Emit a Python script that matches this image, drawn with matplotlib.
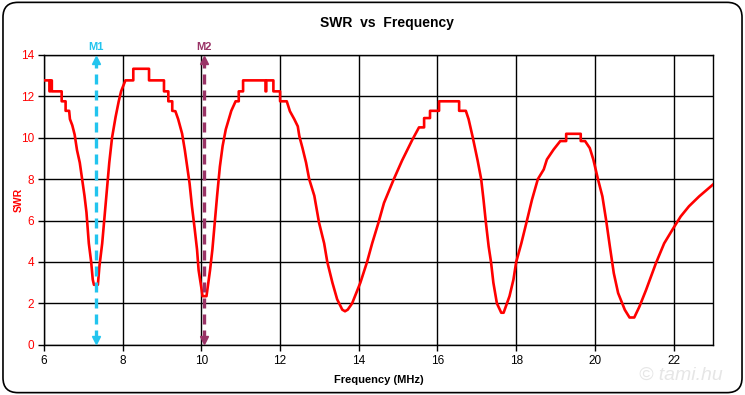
import numpy as np
import matplotlib.pyplot as plt
from matplotlib.patches import FancyBboxPatch

plt.rcParams['font.family'] = ['Liberation Sans', 'DejaVu Sans']

# SWR sweep (MHz, SWR)
freq = [6.00, 6.14, 6.14, 6.16, 6.16, 6.20, 6.20, 6.45, 6.45, 6.55, 6.55, 6.64,
        6.66, 6.72, 6.78, 6.84, 6.91, 6.97, 7.03, 7.08, 7.14, 7.20, 7.24, 7.27,
        7.37, 7.41, 7.48, 7.54, 7.60, 7.66, 7.73, 7.82, 7.90, 7.96, 8.07, 8.27,
        8.27, 8.67, 8.67, 9.05, 9.05, 9.16, 9.16, 9.26, 9.26, 9.34, 9.41, 9.51,
        9.58, 9.64, 9.70, 9.76, 9.83, 9.89, 9.93, 10.00, 10.03, 10.13, 10.22,
        10.28, 10.34, 10.40, 10.47, 10.54, 10.62, 10.76, 10.87, 10.95, 10.95,
        11.06, 11.06, 11.63, 11.63, 11.65, 11.65, 11.83, 11.83, 12.00, 12.00,
        12.17, 12.25, 12.36, 12.45, 12.49, 12.57, 12.66, 12.74, 12.87, 12.99,
        13.12, 13.20, 13.33, 13.45, 13.58, 13.65, 13.72, 13.83, 14.04, 14.21,
        14.34, 14.50, 14.64, 14.89, 15.10, 15.36, 15.53, 15.66, 15.66, 15.81,
        15.81, 16.04, 16.04, 16.55, 16.55, 16.72, 16.79, 16.89, 17.02, 17.11,
        17.17, 17.23, 17.30, 17.36, 17.42, 17.51, 17.62, 17.68, 17.83, 17.93,
        18.00, 18.13, 18.26, 18.40, 18.55, 18.70, 18.78, 18.95, 19.12, 19.27,
        19.27, 19.64, 19.64, 19.75, 19.87, 19.96, 20.08, 20.19, 20.29, 20.38,
        20.48, 20.59, 20.76, 20.88, 21.00, 21.13, 21.30, 21.55, 21.76, 21.97,
        22.18, 22.39, 22.65, 22.90, 23.00]
swr = [12.77, 12.77, 12.24, 12.24, 12.77, 12.77, 12.24, 12.24, 11.76, 11.76, 11.30, 11.30,
       10.90, 10.60, 10.15, 9.40, 8.80, 8.00, 7.20, 6.40, 4.90, 4.00, 3.15, 2.90,
       2.90, 3.80, 4.90, 6.20, 7.50, 8.80, 10.00, 11.00, 11.76, 12.24, 12.77, 12.77,
       13.33, 13.33, 12.77, 12.77, 12.24, 12.24, 11.76, 11.76, 11.30, 11.28, 10.90, 10.20,
       9.40, 8.60, 7.80, 6.70, 5.60, 4.60, 3.60, 2.75, 2.35, 2.35, 3.60,
       4.60, 5.90, 7.20, 8.60, 9.60, 10.40, 11.30, 11.76, 11.76, 12.24,
       12.24, 12.77, 12.77, 12.24, 12.24, 12.77, 12.77, 12.24, 12.24, 11.76,
       11.76, 11.28, 10.90, 10.55, 10.07, 9.50, 8.80, 8.00, 7.20, 5.90,
       4.90, 4.00, 3.00, 2.20, 1.70, 1.62, 1.70, 2.00, 3.00, 4.00,
       4.90, 5.90, 6.85, 8.00, 8.90, 9.90, 10.50, 10.50, 10.95, 10.95,
       11.30, 11.30, 11.76, 11.76, 11.30, 11.30, 10.90, 10.07, 8.90, 8.00,
       7.00, 5.90, 4.75, 4.00, 3.00, 2.00, 1.55, 1.55, 2.35, 3.15,
       4.00, 4.90, 5.90, 7.00, 8.00, 8.47, 8.95, 9.43, 9.84, 9.84,
       10.19, 10.19, 9.84, 9.84, 9.50, 8.95, 7.98, 7.17, 5.96, 4.75,
       3.46, 2.50, 1.69, 1.32, 1.32, 1.84, 2.65, 3.94, 4.90, 5.56,
       6.20, 6.69, 7.17, 7.58, 7.74]

# markers
m_names = ['M1', 'M2']
m_freq = [7.33, 10.07]
m_colors = ['#22c4ee', '#993366']

fig = plt.figure(figsize=(7.45, 3.95), dpi=100)
ax = fig.add_axes([0.059, 0.127, 0.898, 0.734])

# rounded frame around the whole chart
frame = FancyBboxPatch((0.004, 0.006), 0.992, 0.988, boxstyle='round,pad=0,rounding_size=0.02',
                       transform=fig.transFigure, fill=False, edgecolor='black', lw=1.2,
                       mutation_aspect=745 / 395)
fig.patches.append(frame)

ax.plot(freq, swr, color='red', lw=1.9, zorder=3)

for name, f, c in zip(m_names, m_freq, m_colors):
    ax.plot([f, f], [0.25, 13.75], color=c, lw=2.4, ls=(0, (3, 1.8)), zorder=4)
    ax.plot(f, 13.75, marker='^', color=c, ms=6, zorder=4, clip_on=False)
    ax.plot(f, 0.25, marker='v', color=c, ms=6, zorder=4, clip_on=False)
    ax.text(f, 14.15, name, color=c, fontsize=8, fontweight='bold', ha='center', va='bottom')

ax.set_xlim(6, 23)
ax.set_ylim(0, 14)
ax.set_xticks(np.arange(6, 23, 2))
ax.set_yticks(np.arange(0, 15, 2))
ax.grid(True, color='black', lw=1)
ax.set_axisbelow(True)
for s in ax.spines.values():
    s.set_color('black')
    s.set_linewidth(1)
ax.tick_params(axis='both', direction='out', length=4, width=1, color='black', labelsize=8.5, pad=3)
ax.tick_params(axis='y', labelcolor='red')

ax.set_xlabel('Frequency (MHz)', fontsize=8, fontweight='bold', labelpad=6)
ax.set_ylabel('SWR', fontsize=7.5, fontweight='bold', color='red')
ax.yaxis.set_label_coords(-0.031, 0.5)
fig.text(0.52, 0.942, 'SWR  vs  Frequency', ha='center', va='center', fontsize=10, fontweight='bold')
fig.text(0.914, 0.05, '\u00a9 tami.hu', ha='center', va='center', fontsize=14, style='italic',
         color='#e6e6e6')

fig.savefig('out.png', dpi=100)
